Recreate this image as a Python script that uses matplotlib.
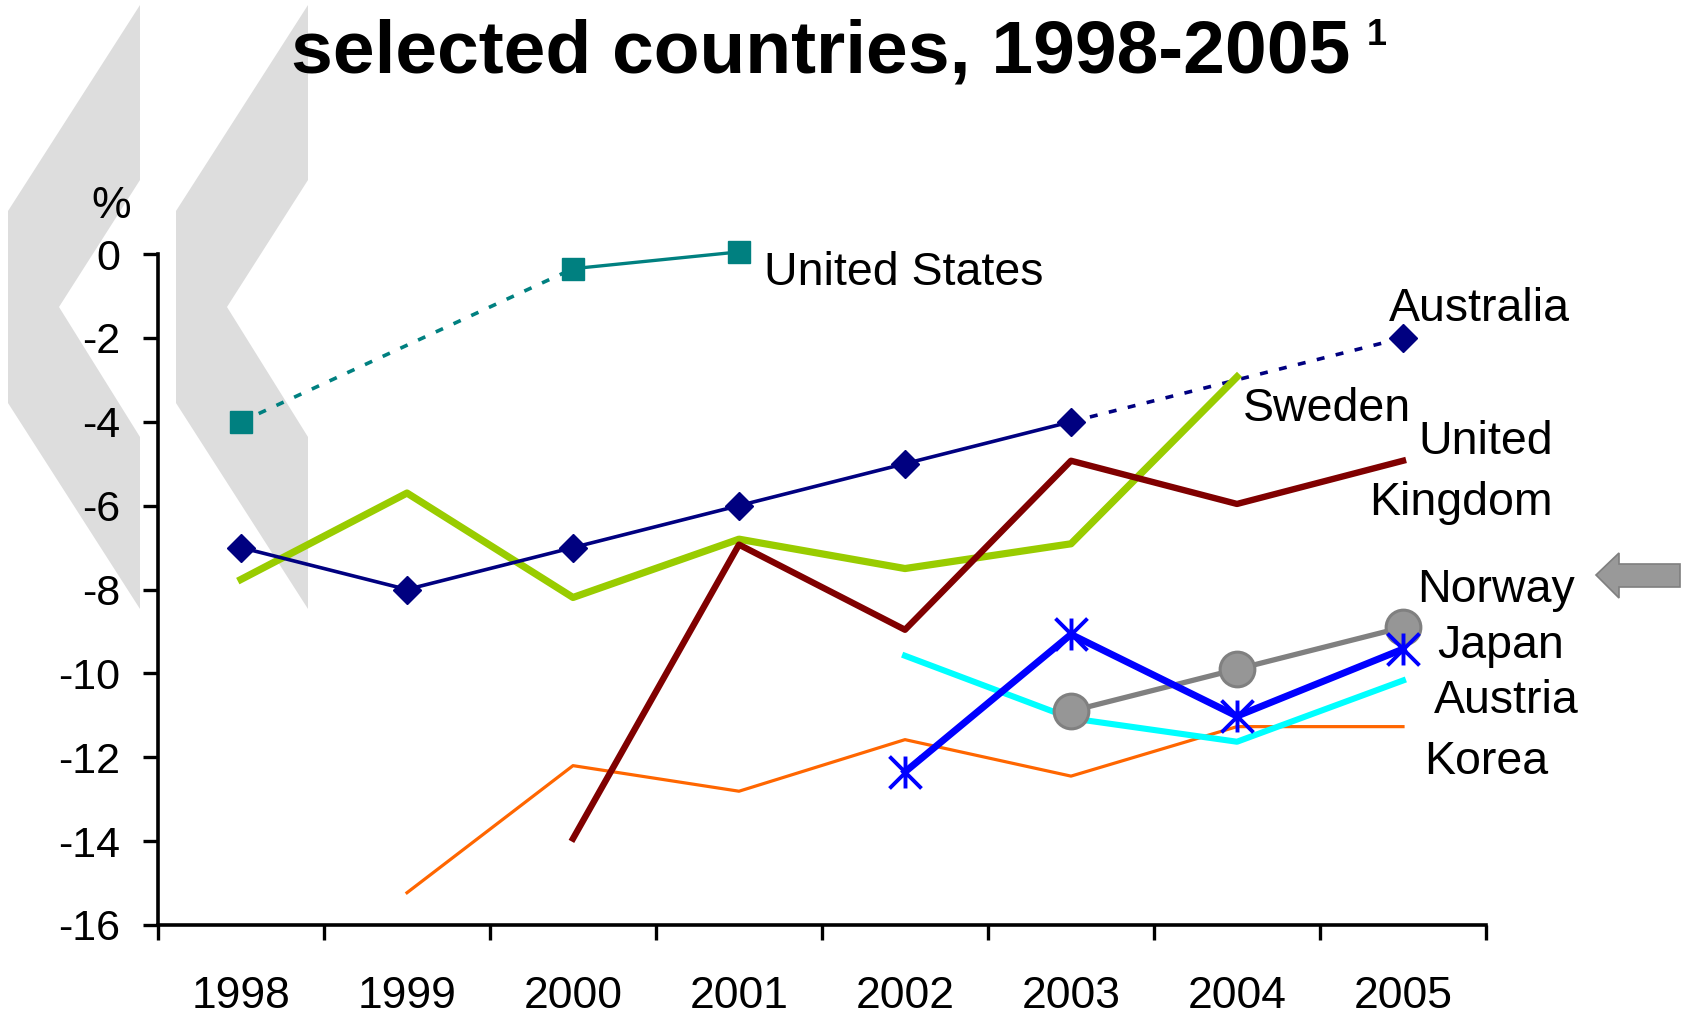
import numpy as np
import matplotlib
matplotlib.use('Agg')
import matplotlib.pyplot as plt
from matplotlib.patches import Polygon
from matplotlib.path import Path

plt.rcParams['font.family'] = ['Liberation Sans', 'DejaVu Sans']

nan = np.nan
years = ['1998', '1999', '2000', '2001', '2002', '2003', '2004', '2005']

# values in %, nan = no data
united_states = [-4.0, nan, -0.35, 0.05, nan, nan, nan, nan]
australia = [-7.0, -8.0, -7.0, -6.0, -5.0, -4.0, nan, -2.0]
sweden = [-7.76, -5.7, -8.19, -6.8, -7.5, -6.91, -2.93, nan]
united_kingdom = [nan, nan, -13.94, -6.93, -8.96, -4.93, -5.96, -4.93]
korea = [nan, -15.23, -12.2, -12.81, -11.58, -12.45, -11.27, -11.27]
austria = [nan, nan, nan, nan, -9.58, -11.07, -11.63, -10.17]
norway = [nan, nan, nan, nan, nan, -10.9, -9.9, -8.9]
japan = [nan, nan, nan, nan, -12.35, -9.07, -11.02, -9.42]

W, H = 1688, 1016


def fx(px):
    return px / W


def fy(py):
    return 1 - py / H


fig = plt.figure(figsize=(W / 100, H / 100), dpi=100)

# grey chevrons on the left
for x0 in (8, 176):
    w = 132
    pts = [(x0 + w, 5), (x0, 211), (x0, 403), (x0 + w, 609), (x0 + w, 437),
           (x0 + 51, 307), (x0 + w, 180)]
    fig.patches.append(Polygon([(fx(a), fy(b)) for a, b in pts], closed=True,
                               transform=fig.transFigure, facecolor='#dddddd',
                               edgecolor='none', zorder=0))

# grey arrow on the right
arrow = [(1596, 575), (1619, 553), (1619, 564), (1680, 564), (1680, 587),
         (1619, 587), (1619, 598)]
fig.patches.append(Polygon([(fx(a), fy(b)) for a, b in arrow], closed=True,
                           transform=fig.transFigure, facecolor='#999999',
                           edgecolor='#7f7f7f', lw=1.2, zorder=0))

ax = fig.add_axes([fx(158), fy(925), (1486 - 158) / W, (925 - 254) / H])
ax.set_zorder(1)
ax.patch.set_alpha(0)
x = np.arange(len(years))

star = Path([(-1, -1), (1, 1), (-1, 1), (1, -1), (0, -1), (0, 1)],
            [Path.MOVETO, Path.LINETO, Path.MOVETO, Path.LINETO,
             Path.MOVETO, Path.LINETO])


def bridge(vals, color, lw, dash):
    v = np.array(vals, dtype=float)
    idx = np.where(~np.isnan(v))[0]
    for a, b in zip(idx[:-1], idx[1:]):
        if b - a > 1:
            ax.plot([x[a], x[b]], [v[a], v[b]], color=color, lw=lw,
                    linestyle=dash, clip_on=False, zorder=2)


ax.plot(x, korea, color='#ff6600', lw=2.3, zorder=3)
ax.plot(x, sweden, color='#99cc00', lw=5.2, zorder=3)
ax.plot(x, united_kingdom, color='#800000', lw=4.6, zorder=4)

bridge(australia, '#000080', 2.6, (0, (2.2, 3.2)))
ax.plot(x, australia, color='#000080', lw=2.6, marker='D', markersize=14,
        clip_on=False, zorder=5)

bridge(united_states, '#008080', 2.6, (0, (2.2, 3.2)))
ax.plot(x, united_states, color='#008080', lw=2.4, marker='s', markersize=16,
        clip_on=False, zorder=5)

ax.plot(x, austria, color='#00ffff', lw=4.4, zorder=5)
ax.plot(x, norway, color='#808080', lw=3.8, marker='o', markersize=25,
        markerfacecolor='#969696', markeredgecolor='#808080', markeredgewidth=2.2,
        zorder=6)
ax.plot(x, japan, color='#0000ff', lw=5, marker=star, markersize=23,
        markeredgewidth=2.8, markeredgecolor='#0000ff', zorder=7)

ax.set_xlim(-0.5, len(years) - 0.5)
ax.set_ylim(-16, 0)
ax.set_yticks(np.arange(-16, 1, 2))
ax.set_yticklabels([str(v) for v in range(-16, 1, 2)])
ax.set_xticks(x)
ax.set_xticklabels(years)
ax.set_xticks(np.arange(-0.5, len(years), 1), minor=True)
ax.tick_params(axis='x', which='major', length=0, pad=37, labelsize=32)
ax.tick_params(axis='x', which='minor', length=11, width=2.4, direction='out')
ax.tick_params(axis='y', length=11, width=2.4, direction='out', pad=16, labelsize=31)
for s in ('top', 'right'):
    ax.spines[s].set_visible(False)
ax.spines['left'].set_linewidth(2.6)
ax.spines['bottom'].set_linewidth(2.6)

# title (upper lines cut off in the original)
fig.text(fx(291), fy(73), 'selected countries, 1998-2005', fontsize=54,
         fontweight='bold', va='baseline', ha='left')
fig.text(fx(1367), fy(45), '1', fontsize=26, fontweight='bold',
         va='baseline', ha='left')
fig.text(fx(91), fy(218), '%', fontsize=32, va='baseline', ha='left')

labels = [
    ('United States', 764, 285, 'left'),
    ('Australia', 1389, 321, 'left'),
    ('Sweden', 1243, 421, 'left'),
    ('United', 1553, 454, 'right'),
    ('Kingdom', 1553, 515, 'right'),
    ('Norway', 1417, 602, 'left'),
    ('Japan', 1437, 658, 'left'),
    ('Austria', 1434, 713, 'left'),
    ('Korea', 1424, 774, 'left'),
]
for txt, px, py, ha in labels:
    fig.text(fx(px), fy(py), txt, fontsize=33.5, va='baseline', ha=ha)

fig.savefig('out.png', dpi=100)
